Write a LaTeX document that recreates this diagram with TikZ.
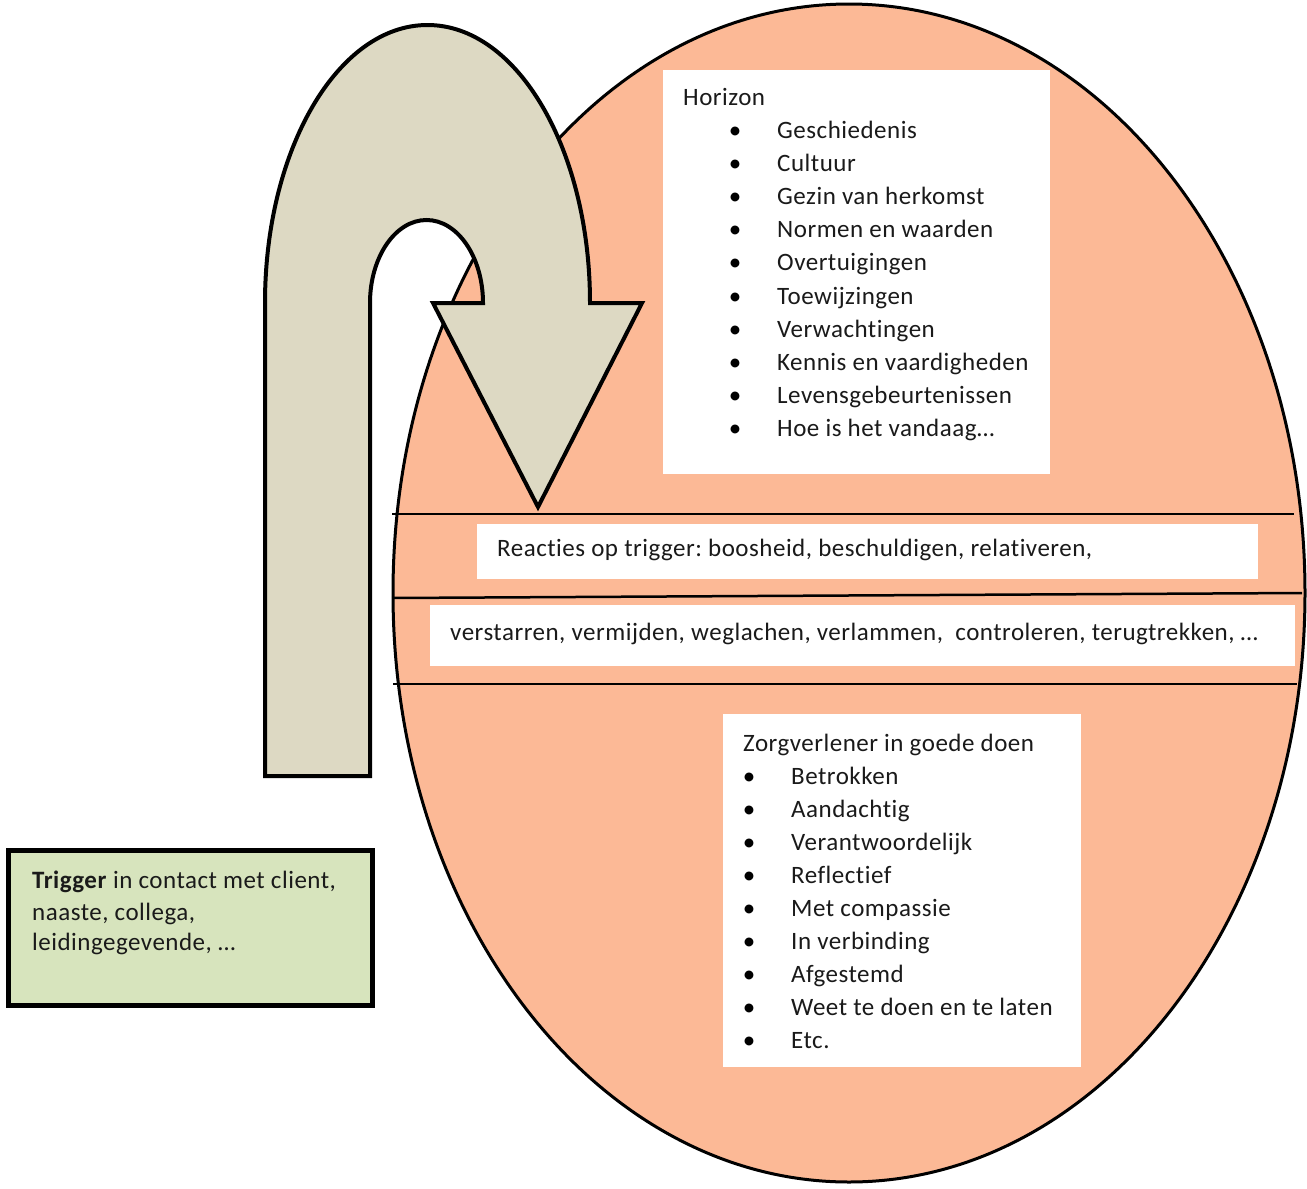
\documentclass[tikz,border=0pt]{standalone}
\usepackage{fontspec}
\setmainfont{Carlito}[LetterSpace=2, Ligatures=NoCommon]
\definecolor{eggfill}{HTML}{FCB996}
\definecolor{arrowfill}{HTML}{DDD9C3}
\definecolor{trigfill}{HTML}{D7E4BD}
\definecolor{txt}{HTML}{1A1A1A}
\tikzset{
  egg/.style={draw=black, line width=3pt, fill=eggfill},
  sepline/.style={draw=black, line width=2.5pt},
  whitebox/.style={fill=white, draw=none},
  uarrow/.style={draw=black, line width=4pt, fill=arrowfill, line join=miter},
  trigbox/.style={draw=black, line width=5pt, fill=trigfill},
  lbl/.style={anchor=base west, inner sep=0pt, text=txt, font=\fontsize{25}{31}\selectfont},
  bul/.style={anchor=base, inner sep=0pt, text=black, font=\fontsize{25}{31}\selectfont},
}
\begin{document}
\begin{tikzpicture}[x=1pt,y=-1pt]
\useasboundingbox (0,0) rectangle (1307,1189);
% ellipse
\draw[egg] (849,593) ellipse [x radius=456pt, y radius=589pt];
% separator lines
\draw[sepline] (392,514) -- (1294,514);
\draw[sepline] (392,598) -- (1302,593);
\draw[sepline] (393,684) -- (1297,684);
% white boxes
\fill[whitebox] (663,70) rectangle (1050,474);
\fill[whitebox] (477,524) rectangle (1258,579);
\fill[whitebox] (430,605) rectangle (1295,666);
\fill[whitebox] (723,714) rectangle (1081,1067);
% Horizon list
\node[lbl] (hor) at (683,105) {Horizon};
\foreach \t [count=\i] in {Geschiedenis,Cultuur,Gezin van herkomst,Normen en waarden,Overtuigingen,Toewijzingen,Verwachtingen,Kennis en vaardigheden,Levensgebeurtenissen,Hoe is het vandaag\dots}{
  \node[bul] (hb\i) at (735,138+33.2*\i-33.2) {\textbullet};
  \node[lbl] (ht\i) at (777,138+33.2*\i-33.2) {\t};
}
% reactions
\node[lbl] (reac1) at (497,556) {Reacties op trigger:\ boosheid, beschuldigen, relativeren,};
\node[lbl] (reac2) at (450,640) {verstarren, vermijden, weglachen, verlammen,\ \ controleren, terugtrekken, \dots};
% Zorgverlener list
\node[lbl] (zorg) at (743,751) {Zorgverlener in goede doen};
\foreach \t [count=\i] in {Betrokken,Aandachtig,Verantwoordelijk,Reflectief,Met compassie,In verbinding,Afgestemd,Weet te doen en te laten,Etc.}{
  \node[bul] (zb\i) at (749,784+33.1*\i-33.1) {\textbullet};
  \node[lbl] (zt\i) at (791,784+33.1*\i-33.1) {\t};
}
% U-turn arrow
\draw[uarrow] (265,776) -- (265,303)
  arc[start angle=180, end angle=0, x radius=162.5pt, y radius=278pt]
  -- (642,303) -- (538,507) -- (433,303) -- (483,303)
  arc[start angle=0, end angle=180, x radius=56.5pt, y radius=83pt]
  -- (370,776) -- cycle;
% trigger box
\draw[trigbox] (8,850) rectangle (372,1005);
\node[lbl] (trig1) at (32,888) {\textbf{Trigger} in contact met client,};
\node[lbl] (trig2) at (32,920) {naaste, collega,};
\node[lbl] (trig3) at (32,950) {leidingegevende, \dots};
\end{tikzpicture}
\end{document}
